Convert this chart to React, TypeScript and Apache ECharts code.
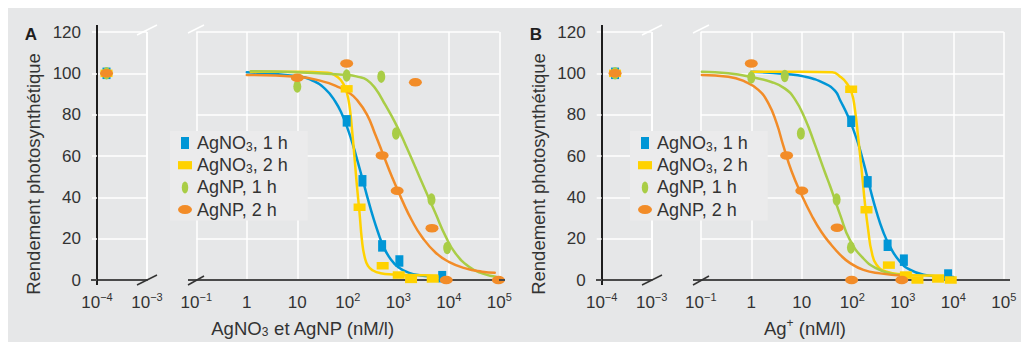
import React, { useEffect, useRef } from "react";
import * as echarts from "echarts";

// ---------------- data ----------------
const seriesNames = ["AgNO3, 1 h", "AgNO3, 2 h", "AgNP, 1 h", "AgNP, 2 h"];

// tick labels of the broken log axes (exponents -4..-3 and -1..5)
const leftTickLabels = ["10{s|−4}", "10{s|−3}"];
const rightTickLabels = ["10{s|−1}", "1", "10", "10{s|2}", "10{s|3}", "10{s|4}", "10{s|5}"];
const yMin = 0;
const yMax = 120;
const yStep = 20;

// control points (no silver), drawn on the short left part of each axis
const controlXA = 1.55e-4;
const controlXB = 1.85e-4;
const controlY = [100, 100, 100, 100];

// Panel A – AgNO3 et AgNP (nM/l): measured points
const ptsA_agno3_1h = [[95, 77], [195, 48], [478, 16.5], [1050, 9.2], [7400, 1.6]];
const ptsA_agno3_2h = [[95, 92.5], [171, 35.2], [490, 6.9], [1020, 2.4], [1790, 0.3], [4800, 0.5]];
const ptsA_agnp_1h = [[10, 93.6], [95, 98.9], [460, 98.4], [900, 70.9], [4540, 38.9], [9300, 15.5]];
const ptsA_agnp_2h = [[10, 97.9], [95, 104.8], [478, 60.3], [950, 43.2], [2180, 95.7], [4640, 25.1], [8900, 0], [96000, 0]];

// Panel A fitted curves
const fitA_agno3_1h = [[1, 100.5], [10, 98.6], [20, 96.5], [35.5, 92.5], [56, 86.5], [79, 79.5], [100, 73], [126, 65.5], [158, 57], [200, 48], [251, 39], [316, 30.5], [398, 23], [501, 16.5], [708, 10], [1000, 6.2], [1585, 3.6], [2818, 2.2], [5012, 1.7], [7413, 1.5]];
const fitA_agno3_2h = [[1.2, 100.8], [10, 100.8], [40, 100.3], [56, 99], [71, 97], [85, 94], [95, 91], [107, 85], [120, 74], [135, 60], [151, 46], [170, 33], [191, 19], [214, 11.5], [251, 6.8], [316, 4.6], [447, 3.3], [794, 2.7], [1585, 2.4], [5888, 2.2]];
const fitA_agnp_1h = [[1.2, 101], [10, 100.5], [100, 99.2], [160, 98.3], [240, 96.8], [355, 92.5], [550, 84.8], [870, 76], [1380, 65.6], [2190, 54.4], [3470, 43.2], [5500, 32], [8510, 21.5], [13500, 13], [25100, 6.4], [45700, 3.2], [85100, 1.6]];
const fitA_agnp_2h = [[1, 99.2], [10, 98.4], [33, 96], [62, 93.6], [100, 91], [151, 87.2], [240, 80], [355, 70], [479, 62], [759, 49.6], [1200, 38.4], [1860, 28.8], [2950, 20.8], [5500, 13.2], [10000, 8.8], [21400, 5.6], [45700, 4], [81300, 3.5]];

// Panel B – Ag+ (nM/l): measured points
const ptsB_agno3_1h = [[95, 76.8], [202, 47.5], [500, 16.8], [1050, 9.6], [7900, 2.4]];
const ptsB_agno3_2h = [[95, 92.3], [191, 34], [530, 7.2], [1150, 2.4], [1950, 0], [5000, 0.5], [8900, 0]];
const ptsB_agnp_1h = [[1, 98], [4.6, 98.7], [9.6, 70.9], [49, 38.9], [94, 15.7]];
const ptsB_agnp_2h = [[1, 104.8], [5, 60.3], [10, 43.2], [50, 25.3], [97, 0], [955, 0]];

// Panel B fitted curves
const fitB_agno3_1h = [[1, 100.8], [4.6, 99.7], [11.5, 98.4], [28.8, 95], [45.7, 91.5], [57.5, 87], [83, 79], [123, 68], [166, 57], [224, 44.5], [302, 33], [407, 23.5], [562, 16], [871, 9], [1380, 5], [2570, 2.6], [5500, 1.7], [10000, 1.5]];
const fitB_agno3_2h = [[1, 100.8], [10, 100.8], [40, 100.5], [57.5, 98.4], [77.6, 95.2], [97.7, 90.4], [112, 83], [132, 68], [155, 52], [178, 37], [209, 23.2], [240, 14], [302, 7.4], [479, 4], [1020, 2.7], [2570, 2.2], [6310, 2.2]];
const fitB_agnp_1h = [[0.105, 100.8], [0.35, 100], [1, 98.2], [2.5, 95.8], [4.65, 92.6], [7.33, 87.4], [11.6, 78], [18.2, 65.5], [28.8, 52], [36.3, 45.5], [45.7, 38.5], [57.5, 31.5], [89, 19.5], [166, 10.4], [302, 5.6], [562, 3.2], [1020, 2.4]];
const fitB_agnp_2h = [[0.105, 99.2], [0.35, 98.4], [0.75, 96], [1.38, 92], [2.17, 85.6], [3.16, 76], [4.3, 65], [6.3, 52.5], [10, 41], [15.7, 31.2], [24.5, 23.2], [38.9, 16.8], [57.1, 12.3], [89, 8.3], [166, 4.9], [355, 3.2], [1020, 2]];

// ---------------- styling ----------------
const COLORS = ["#0096d6", "#ffd200", "#a9cd46", "#f28c28"];
const FONT = "'Liberation Sans', Arial, sans-serif";
const TXT = "#333333";
const ELLIPSE = "path://M0,1A1,1 0 1,1 2,1A1,1 0 1,1 0,1Z";
const markerSymbols = ["rect", "rect", ELLIPSE, ELLIPSE];
const markerSizes = [[8, 11.5], [12, 7.5], [8, 12.5], [13, 8.5]];
const legendIcons = [
  "path://M0,0h8v12h-8z",
  "path://M0,0h12v7h-12z",
  "path://M0,6.5A3.5,6.5 0 1,1 7,6.5A3.5,6.5 0 1,1 0,6.5Z",
  "path://M0,4.5A7,4.5 0 1,1 14,4.5A7,4.5 0 1,1 0,4.5Z",
];

const panels = [
  { grids: [0, 1], controlX: controlXA, pts: [ptsA_agno3_1h, ptsA_agno3_2h, ptsA_agnp_1h, ptsA_agnp_2h], fits: [fitA_agno3_1h, fitA_agno3_2h, fitA_agnp_1h, fitA_agnp_2h] },
  { grids: [2, 3], controlX: controlXB, pts: [ptsB_agno3_1h, ptsB_agno3_2h, ptsB_agnp_1h, ptsB_agnp_2h], fits: [fitB_agno3_1h, fitB_agno3_2h, fitB_agnp_1h, fitB_agnp_2h] },
];

function xAxisFor(gridIndex: number, min: number, max: number, labels: string[], expOffset: number) {
  return {
    type: "log",
    logBase: 10,
    gridIndex,
    min,
    max,
    axisLine: { show: true, onZero: false, lineStyle: { color: "#4a4a4a", width: 2 } },
    axisTick: { show: false },
    splitLine: { show: true, lineStyle: { color: "#ffffff", width: 1.5 } },
    axisLabel: {
      margin: 11,
      color: TXT,
      fontFamily: FONT,
      fontSize: 17,
      lineHeight: 22,
      hideOverlap: false,
      formatter: (v: number) => {
        const e = Math.round(Math.log10(v));
        const s = labels[e - expOffset];
        return s === undefined ? "" : s;
      },
      rich: { s: { fontSize: 11, lineHeight: 13, verticalAlign: "top", color: TXT, fontFamily: FONT } },
    },
  };
}

function yAxisFor(gridIndex: number, show: boolean) {
  return {
    type: "value",
    gridIndex,
    min: yMin,
    max: yMax,
    interval: yStep,
    axisLine: { show, onZero: false, lineStyle: { color: "#1e1e1e", width: 2 } },
    axisTick: { show, length: 5, lineStyle: { color: "#ffffff", width: 1.5 } },
    axisLabel: { show, margin: 16, color: TXT, fontFamily: FONT, fontSize: 17 },
    splitLine: { show: true, lineStyle: { color: "#ffffff", width: 1.5 } },
  };
}

function buildSeries() {
  const out: any[] = [];
  panels.forEach((p) => {
    p.fits.forEach((fit, k) => {
      out.push({
        type: "line",
        name: seriesNames[k] + " (fit)",
        xAxisIndex: p.grids[1],
        yAxisIndex: p.grids[1],
        data: fit,
        showSymbol: false,
        symbol: "none",
        smooth: 0.5,
        lineStyle: { color: COLORS[k], width: 2.5, join: "round", cap: "round" },
        itemStyle: { color: COLORS[k] },
        emphasis: { disabled: true },
        silent: true,
        z: 2,
      });
    });
  });
  panels.forEach((p) => {
    p.pts.forEach((pts, k) => {
      out.push({
        type: "scatter",
        name: seriesNames[k],
        xAxisIndex: p.grids[1],
        yAxisIndex: p.grids[1],
        data: pts,
        symbol: markerSymbols[k],
        symbolSize: markerSizes[k],
        itemStyle: { color: COLORS[k], opacity: 1 },
        emphasis: { disabled: true },
        clip: false,
        silent: true,
        z: 3,
      });
      out.push({
        type: "scatter",
        name: seriesNames[k],
        xAxisIndex: p.grids[0],
        yAxisIndex: p.grids[0],
        data: [[p.controlX, controlY[k]]],
        symbol: markerSymbols[k],
        symbolSize: markerSizes[k],
        itemStyle: { color: COLORS[k], opacity: 1 },
        emphasis: { disabled: true },
        clip: false,
        silent: true,
        z: 3,
      });
    });
  });
  return out;
}

function legendAt(left: number) {
  return {
    left,
    top: 131,
    orient: "vertical",
    padding: [2, 20, 1, 8],
    itemWidth: 14,
    itemHeight: 12,
    itemGap: 2.2,
    backgroundColor: "#ebebec",
    selectedMode: false,
    data: seriesNames.map((n, k) => ({ name: n, icon: legendIcons[k] })),
    formatter: (name: string) => name.replace("AgNO3", "AgNO{sub|3}"),
    textStyle: {
      fontSize: 18,
      lineHeight: 20,
      color: TXT,
      fontFamily: FONT,
      rich: { sub: { fontSize: 12, lineHeight: 10, verticalAlign: "bottom", color: TXT, fontFamily: FONT } },
    },
  };
}

function decorations() {
  const els: any[] = [
    { type: "rect", shape: { x: 0, y: 0, width: 1021, height: 8 }, style: { fill: "#ffffff" }, silent: true },
    { type: "rect", shape: { x: 0, y: 0, width: 8, height: 342 }, style: { fill: "#ffffff" }, silent: true },
  ];
  [0, 505].forEach((o, i) => {
    const dark = { stroke: "#4a4a4a", lineWidth: 2 };
    const white = { stroke: "#ffffff", lineWidth: 1.5 };
    els.push(
      { type: "line", shape: { x1: 97 + o, y1: 25, x2: 97 + o, y2: 33 }, style: { stroke: "#1e1e1e", lineWidth: 2 }, silent: true, z: 50 },
      { type: "line", shape: { x1: 97 + o, y1: 279, x2: 97 + o, y2: 285 }, style: { stroke: "#1e1e1e", lineWidth: 2 }, silent: true, z: 50 },
      { type: "line", shape: { x1: 91 + o, y1: 280, x2: 97 + o, y2: 280 }, style: dark, silent: true, z: 50 },
      { type: "line", shape: { x1: 188 + o, y1: 280, x2: 197 + o, y2: 280 }, style: dark, silent: true, z: 50 },
      { type: "line", shape: { x1: 499 + o, y1: 280, x2: 505 + o, y2: 280 }, style: dark, silent: true, z: 50 },
      { type: "line", shape: { x1: 137 + o, y1: 35, x2: 157 + o, y2: 25 }, style: white, silent: true, z: 50 },
      { type: "line", shape: { x1: 137 + o, y1: 285, x2: 157 + o, y2: 275 }, style: { stroke: "#333", lineWidth: 1.5 }, silent: true, z: 50 },
      { type: "line", shape: { x1: 188 + o, y1: 33, x2: 204 + o, y2: 25 }, style: white, silent: true, z: 50 },
      { type: "line", shape: { x1: 188 + o, y1: 285, x2: 204 + o, y2: 276 }, style: { stroke: "#333", lineWidth: 1.5 }, silent: true, z: 50 },
      {
        type: "text", x: 31 + o, y: 34, silent: true,
        style: { text: i === 0 ? "A" : "B", fontSize: 17, fontWeight: "bold", fontFamily: FONT, fill: "#1e1e1e", align: "center", verticalAlign: "middle" },
      },
      {
        type: "text", x: 33 + o, y: 174, rotation: Math.PI / 2, silent: true,
        style: { text: "Rendement photosynthétique", fontSize: 18.5, fontFamily: FONT, fill: TXT, align: "center", verticalAlign: "middle" },
      }
    );
  });
  els.push(
    {
      type: "text", x: 303, y: 328, silent: true,
      style: {
        text: "AgNO{sub|3} et AgNP (nM/l)", fontSize: 18.5, fontFamily: FONT, fill: TXT, align: "center", verticalAlign: "middle", lineHeight: 20,
        rich: { sub: { fontSize: 12, lineHeight: 10, verticalAlign: "bottom", fill: TXT, fontFamily: FONT } },
      },
    },
    {
      type: "text", x: 805, y: 328, silent: true,
      style: {
        text: "Ag{sup|+} (nM/l)", fontSize: 18.5, fontFamily: FONT, fill: TXT, align: "center", verticalAlign: "middle", lineHeight: 22,
        rich: { sup: { fontSize: 12, lineHeight: 12, verticalAlign: "top", fill: TXT, fontFamily: FONT } },
      },
    }
  );
  return els;
}

const option: any = {
  animation: false,
  backgroundColor: "#e6e7e8",
  textStyle: { fontFamily: FONT },
  grid: [
    { left: 97, top: 32, width: 50, height: 248 },
    { left: 196.3, top: 32, width: 303, height: 248 },
    { left: 601.7, top: 32, width: 50, height: 248 },
    { left: 700.8, top: 32, width: 303, height: 248 },
  ],
  xAxis: [
    xAxisFor(0, 1e-4, 1e-3, leftTickLabels, -4),
    xAxisFor(1, 1e-1, 1e5, rightTickLabels, -1),
    xAxisFor(2, 1e-4, 1e-3, leftTickLabels, -4),
    xAxisFor(3, 1e-1, 1e5, rightTickLabels, -1),
  ],
  yAxis: [yAxisFor(0, true), yAxisFor(1, false), yAxisFor(2, true), yAxisFor(3, false)],
  legend: [legendAt(170), legendAt(630)],
  series: buildSeries(),
  graphic: { elements: decorations() },
};

export default function App() {
  const ref = useRef<HTMLDivElement>(null);
  useEffect(() => {
    if (!ref.current) return;
    const chart = echarts.init(ref.current, null, { renderer: "svg" });
    chart.setOption(option);
    return () => chart.dispose();
  }, []);
  return <div ref={ref} style={{ position: "fixed", left: 0, top: 0, width: 1021, height: 342 }} />;
}
